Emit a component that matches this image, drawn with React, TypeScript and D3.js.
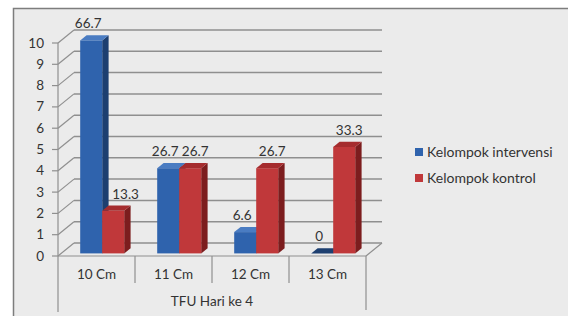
import React from 'react';
import * as d3 from 'd3';

const categories = ['10 Cm', '11 Cm', '12 Cm', '13 Cm'];
const seriesNames = ['Kelompok intervensi', 'Kelompok kontrol'];
const intervensi = [10, 4, 1, 0];
const kontrol = [2, 4, 4, 5];
const intervensiLabels = ['66.7', '26.7', '6.6', '0'];
const kontrolLabels = ['13.3', '26.7', '26.7', '33.3'];
const yTicks = [0, 1, 2, 3, 4, 5, 6, 7, 8, 9, 10];
const axisTitle = 'TFU Hari ke 4';

const W = 568;
const H = 316;
const DX = 16;
const DY = -13;
const FONT = 'Lato, "Open Sans", sans-serif';
const FS = 13.5;

const palette = [
  { front: '#2f63ad', side: '#1d3f70', top: '#4a7cc2' },
  { front: '#c0383a', side: '#7c1d1e', top: '#a52c2e' },
];

export default function App() {
  const x = d3.scaleBand<string>().domain(categories).range([58, 366]).paddingInner(0);
  const inner = d3.scaleBand<string>().domain(seriesNames).range([19, 63]);
  const y = d3.scaleLinear().domain([0, 10]).range([256, 43]);

  const series = [
    { name: seriesNames[0], values: intervensi, labels: intervensiLabels },
    { name: seriesNames[1], values: kontrol, labels: kontrolLabels },
  ];

  const x0 = 58;
  const x1 = 366;
  const f0 = 0.2; // front face depth fraction
  const fd = 0.4; // bar depth fraction
  const sx = DX * f0;
  const sy = DY * f0;
  const bdx = DX * fd;
  const bdy = DY * fd;
  const txt = '#333';
  const grid = '#8f8f8f';

  const barX = (c: string, name: string) => (x(c) as number) + (inner(name) as number) + sx;

  return (
    <svg width={W} height={H} style={{ position: 'absolute', left: 0, top: 0 }}>
      <rect x={0} y={0} width={W} height={H} fill="#ffffff" />
      <rect x={13.5} y={8.5} width={W} height={H} fill="#ebebeb" stroke="#7d7d7d" strokeWidth={1.5} />

      {/* back wall gridlines and side wall diagonals */}
      {yTicks.map((t) => (
        <g key={t}>
          <line x1={x0 + DX} x2={x1 + DX} y1={y(t) + DY} y2={y(t) + DY} stroke={grid} strokeWidth={1.5} />
          <line x1={x0} x2={x0 + DX} y1={y(t)} y2={y(t) + DY} stroke={grid} strokeWidth={1.2} />
          <line x1={x0 - 6} x2={x0} y1={y(t)} y2={y(t)} stroke={grid} strokeWidth={1.2} />
          <text x={44} y={y(t) + 4.5} textAnchor="end" fontSize={FS} fontFamily={FONT} fill={txt}>
            {t}
          </text>
        </g>
      ))}
      {/* floor right edge */}
      <line x1={x1} x2={x1 + DX} y1={y(0)} y2={y(0) + DY} stroke={grid} strokeWidth={1.2} />
      {/* value axis */}
      <line x1={x0} x2={x0} y1={y(10)} y2={y(0)} stroke={grid} strokeWidth={1.2} />

      {/* bars */}
      {categories.map((c) =>
        series.map((s, si) => {
          const v = s.values[categories.indexOf(c)];
          const col = palette[si];
          const bx = barX(c, s.name);
          const bw = inner.bandwidth();
          const top = y(v) + sy;
          const bottom = y(0) + sy;
          const sidePts = `${bx + bw},${top} ${bx + bw + bdx},${top + bdy} ${bx + bw + bdx},${bottom + bdy} ${bx + bw},${bottom}`;
          const topPts = `${bx},${top} ${bx + bdx},${top + bdy} ${bx + bw + bdx},${top + bdy} ${bx + bw},${top}`;
          return (
            <g key={`${c}-${s.name}`}>
              <polygon points={sidePts} fill={col.side} />
              <rect x={bx} y={top} width={bw} height={bottom - top} fill={col.front} />
              <polygon points={topPts} fill={v === 0 ? col.side : col.top} />
            </g>
          );
        })
      )}

      {/* data labels */}
      {categories.map((c, ci) =>
        series.map((s, si) => {
          const v = s.values[ci];
          const bx = barX(c, s.name);
          const bw = inner.bandwidth();
          const ty = y(v) + sy + bdy - 7;
          let cx = bx + bw / 2 + (si === 0 ? -3 : 5);
          if (si > 0) {
            // push label clear of a taller neighbouring bar
            const prev = series[si - 1];
            const prevTop = y(prev.values[ci]) + sy + bdy;
            if (prevTop < ty) {
              const prevRight = barX(c, prev.name) + bw + bdx;
              cx = Math.max(cx, prevRight + 5 + 12);
            }
          }
          return (
            <text key={`l-${c}-${si}`} x={cx} y={ty} textAnchor="middle" fontSize={FS} fontFamily={FONT} fill={txt}>
              {s.labels[ci]}
            </text>
          );
        })
      )}

      {/* category axis */}
      <line x1={x0} x2={x1} y1={y(0)} y2={y(0)} stroke={grid} strokeWidth={1.2} />
      {categories.map((c, ci) => (
        <g key={`c-${c}`}>
          {ci > 0 && (
            <line x1={x(c)} x2={x(c)} y1={y(0)} y2={283} stroke={grid} strokeWidth={1.2} />
          )}
          <text
            x={(x(c) as number) + x.bandwidth() / 2}
            y={279}
            textAnchor="middle"
            fontSize={FS}
            fontFamily={FONT}
            fill={txt}
          >
            {c}
          </text>
        </g>
      ))}
      <line x1={x0} x2={x0} y1={y(0)} y2={312} stroke={grid} strokeWidth={1.2} />
      <line x1={x1} x2={x1} y1={y(0)} y2={310} stroke={grid} strokeWidth={1.2} />
      <text x={(x0 + x1) / 2} y={306} textAnchor="middle" fontSize={FS} fontFamily={FONT} fill={txt}>
        {axisTitle}
      </text>

      {/* legend */}
      {seriesNames.map((n, i) => (
        <g key={`lg-${n}`} transform={`translate(415,${148 + i * 26})`}>
          <rect x={0} y={0} width={8} height={8} fill={palette[i].front} />
          <text x={12} y={9} fontSize={14} fontFamily={FONT} fill={txt}>
            {n}
          </text>
        </g>
      ))}
    </svg>
  );
}
